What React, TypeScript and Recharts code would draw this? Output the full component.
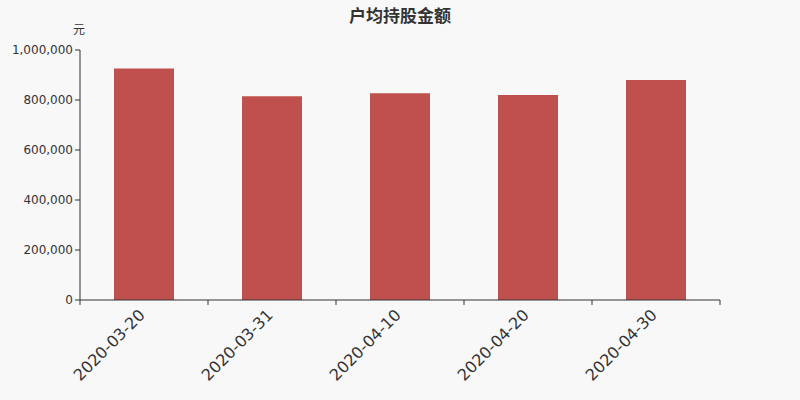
import { BarChart, Bar, XAxis, YAxis } from 'recharts';

document.body.style.margin = '0';
document.body.style.background = '#f8f8f8';

const dates = ['2020-03-20', '2020-03-31', '2020-04-10', '2020-04-20', '2020-04-30'];
const amounts = [926000, 815000, 827000, 820000, 880000];
const yTicks = [0, 200000, 400000, 600000, 800000, 1000000];

const data = dates.map((date, i) => ({ date, amount: amounts[i] }));

const W = 800;
const H = 400;
const LEFT = 80;
const RIGHT = 80;
const BAND = (W - LEFT - RIGHT) / dates.length;
const FONT = '"DejaVu Sans", "Noto Sans CJK SC", sans-serif';

function DateTick(props: any) {
  const { x, y, payload, index } = props;
  const last = index === dates.length - 1;
  return (
    <g>
      <line x1={x - BAND / 2} y1={y - 8} x2={x - BAND / 2} y2={y - 3} stroke="#333" />
      {last && <line x1={x + BAND / 2} y1={y - 8} x2={x + BAND / 2} y2={y - 3} stroke="#333" />}
      <text
        x={x + 2}
        y={y + 8}
        transform={`rotate(-45 ${x + 2} ${y + 8})`}
        textAnchor="end"
        fontSize={16}
        fill="#333"
        fontFamily={FONT}
      >
        {payload.value}
      </text>
    </g>
  );
}

export default function App() {
  return (
    <div style={{ width: W, height: H, position: 'relative', background: '#f8f8f8', fontFamily: FONT }}>
      <div style={{ position: 'absolute', top: 2, left: 0, width: W, textAlign: 'center', fontSize: 17, fontWeight: 'bold', color: '#333' }}>
        户均持股金额
      </div>
      <div style={{ position: 'absolute', top: 20, left: 73, fontSize: 12, color: '#333' }}>元</div>
      <BarChart width={W} height={H} data={data} margin={{ top: 50, right: RIGHT, bottom: 0, left: 0 }}>
        <XAxis
          dataKey="date"
          height={100}
          tickLine={false}
          axisLine={{ stroke: '#333' }}
          interval={0}
          tick={<DateTick />}
        />
        <YAxis
          width={LEFT}
          domain={[0, 1000000]}
          ticks={yTicks}
          tickFormatter={(v: number) => v.toLocaleString('en-US')}
          tick={{ fontSize: 12, fill: '#333', fontFamily: FONT }}
          tickSize={5}
          axisLine={{ stroke: '#333' }}
          tickLine={{ stroke: '#333' }}
        />
        <Bar dataKey="amount" fill="#c0504d" barSize={60} isAnimationActive={false} />
      </BarChart>
    </div>
  );
}
